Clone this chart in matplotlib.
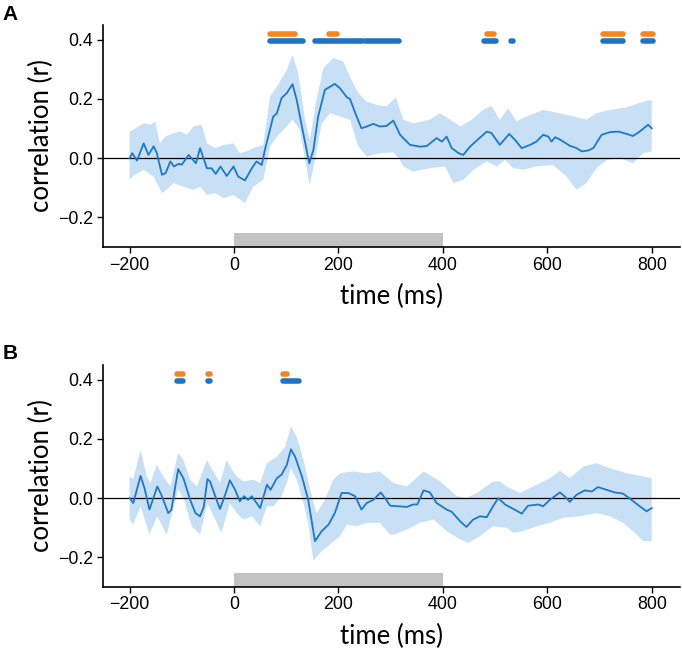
import matplotlib
matplotlib.use("Agg")
import matplotlib.pyplot as plt
import numpy as np

# ---- panel A: mean correlation and its confidence band
a_t = [-200, -195, -186, -173, -164, -154, -148, -138, -131, -122, -115, -106, -100,
       -87, -73, -65, -52, -43, -35, -26, -14, -1, 8, 21, 34, 43, 53, 59, 75, 82,
       91, 101, 112, 120, 130, 144, 152, 161, 174, 193, 203, 216, 222, 235, 244,
       254, 267, 279, 292, 305, 318, 337, 356, 369, 388, 398, 407, 417, 430, 439,
       452, 465, 484, 493, 509, 527, 538, 551, 567, 579, 592, 602, 608, 615, 627,
       643, 656, 666, 678, 688, 704, 720, 736, 752, 764, 777, 793, 800]
a_r = [0.0, 0.017, -0.008, 0.05, 0.011, 0.04, 0.018, -0.056, -0.05, -0.011, -0.028,
       -0.019, -0.022, 0.011, -0.017, 0.034, -0.034, -0.034, -0.053, -0.028, -0.06,
       -0.028, -0.062, -0.075, -0.034, -0.011, -0.023, 0.028, 0.14, 0.152, 0.203,
       0.22, 0.25, 0.197, 0.107, -0.017, 0.028, 0.14, 0.231, 0.251, 0.236, 0.206,
       0.2, 0.14, 0.101, 0.107, 0.116, 0.107, 0.109, 0.127, 0.079, 0.045, 0.039,
       0.041, 0.068, 0.056, 0.073, 0.034, 0.017, 0.011, 0.039, 0.06, 0.09, 0.085,
       0.045, 0.082, 0.062, 0.034, 0.045, 0.056, 0.079, 0.073, 0.056, 0.071, 0.06,
       0.042, 0.034, 0.023, 0.026, 0.034, 0.079, 0.088, 0.09, 0.082, 0.075, 0.09,
       0.113, 0.101]

a_hi_t = [-200, -193, -173, -160, -151, -142, -132, -116, -103, -90, -78, -62, -52,
          -36, -20, -1, 11, 24, 37, 56, 69, 82, 101, 112, 123, 136, 145, 158, 171,
          190, 209, 228, 241, 254, 273, 292, 310, 324, 343, 375, 394, 414, 433, 455,
          477, 493, 509, 525, 541, 560, 592, 624, 650, 675, 694, 720, 752, 784, 800]
a_hi = [0.09, 0.096, 0.118, 0.113, 0.124, 0.05, 0.073, 0.084, 0.09, 0.079, 0.107,
        0.113, 0.05, 0.034, 0.045, 0.05, 0.017, 0.023, 0.034, 0.045, 0.208, 0.242,
        0.298, 0.349, 0.287, 0.13, 0.062, 0.197, 0.304, 0.338, 0.327, 0.253, 0.214,
        0.191, 0.18, 0.175, 0.205, 0.13, 0.118, 0.13, 0.152, 0.13, 0.107, 0.13,
        0.163, 0.177, 0.13, 0.169, 0.124, 0.141, 0.163, 0.152, 0.141, 0.13, 0.152,
        0.163, 0.172, 0.191, 0.197]

a_lo_t = [-200, -193, -173, -154, -138, -128, -116, -97, -78, -65, -52, -36, -20, -1,
          21, 37, 56, 69, 82, 101, 112, 126, 136, 145, 155, 168, 184, 203, 222, 238,
          254, 279, 305, 318, 324, 343, 375, 404, 420, 439, 459, 484, 503, 519, 535,
          554, 579, 611, 637, 656, 675, 694, 714, 739, 764, 784, 800]
a_lo = [-0.073, -0.06, -0.039, -0.062, -0.118, -0.105, -0.084, -0.096, -0.107,
        -0.096, -0.124, -0.118, -0.135, -0.124, -0.152, -0.096, -0.073, 0.039, 0.073,
        0.107, 0.13, 0.096, -0.006, -0.09, -0.006, 0.118, 0.152, 0.141, 0.13, 0.039,
        0.006, 0.017, 0.02, -0.006, -0.028, -0.045, -0.034, -0.028, -0.084, -0.073,
        -0.039, -0.011, -0.028, -0.006, -0.034, -0.039, -0.028, -0.023, -0.062,
        -0.107, -0.084, -0.034, -0.006, 0.0, -0.017, 0.017, 0.023]

# significant windows (ms): top row orange, bottom row blue
a_sig_orange = [(68, 117), (182, 198), (484, 498), (707, 744), (784, 803)]
a_sig_blue = [(68, 132), (155, 245), (250, 315), (479, 501), (530, 535),
              (707, 744), (784, 803)]

# ---- panel B
b_t = [-200, -193, -179, -171, -162, -147, -139, -126, -120, -107, -97, -84, -74,
       -65, -58, -51, -46, -36, -27, -17, -8, 2, 11, 19, 27, 34, 50, 63, 70, 82,
       91, 101, 109, 117, 130, 142, 155, 168, 181, 193, 206, 219, 232, 244, 254,
       267, 281, 289, 299, 315, 331, 343, 351, 363, 375, 388, 407, 417, 433, 445,
       458, 471, 484, 496, 506, 519, 535, 551, 563, 583, 592, 605, 624, 633, 643,
       656, 672, 685, 697, 713, 729, 745, 761, 777, 790, 800]
b_r = [0.0, -0.017, 0.075, 0.03, -0.039, 0.039, 0.01, -0.051, -0.04, 0.098, 0.067,
       -0.006, -0.051, -0.062, -0.03, 0.064, 0.056, 0.006, -0.037, 0.011, 0.06,
       0.028, -0.011, 0.006, -0.006, 0.006, -0.034, 0.045, 0.028, 0.067, 0.079,
       0.112, 0.165, 0.14, 0.073, -0.006, -0.146, -0.112, -0.09, -0.051, 0.017,
       0.017, 0.006, -0.039, -0.017, -0.006, 0.019, 0.0, -0.026, -0.028, -0.03,
       -0.022, -0.022, 0.026, 0.019, -0.017, -0.039, -0.047, -0.079, -0.098, -0.073,
       -0.062, -0.065, -0.028, 0.0, -0.022, -0.037, -0.053, -0.026, -0.022, -0.028,
       -0.006, 0.019, 0.006, -0.013, 0.011, 0.026, 0.022, 0.037, 0.028, 0.019, 0.015,
       -0.006, -0.028, -0.045, -0.034]

b_hi_t = [-200, -193, -179, -167, -160, -148, -135, -122, -107, -97, -84, -71, -52,
          -36, -27, -14, -4, 5, 18, 37, 50, 63, 82, 98, 109, 120, 133, 146, 158,
          174, 190, 203, 228, 254, 279, 305, 331, 363, 395, 427, 445, 465, 496, 509,
          522, 548, 573, 605, 624, 643, 669, 694, 720, 752, 784, 800]
b_hi = [0.073, 0.065, 0.163, 0.073, 0.051, 0.112, 0.073, 0.039, 0.152, 0.129, 0.062,
        0.039, 0.129, 0.079, 0.051, 0.129, 0.096, 0.073, 0.056, 0.062, 0.051, 0.118,
        0.14, 0.174, 0.242, 0.208, 0.129, 0.028, -0.051, -0.006, 0.062, 0.084, 0.09,
        0.084, 0.09, 0.051, 0.039, 0.09, 0.056, 0.006, 0.0, 0.017, 0.056, 0.056,
        0.039, 0.017, 0.039, 0.067, 0.093, 0.067, 0.107, 0.118, 0.101, 0.084, 0.073,
        0.067]

b_lo_t = [-200, -193, -179, -162, -147, -129, -107, -97, -81, -65, -51, -36, -24,
          -8, 5, 18, 34, 50, 63, 76, 91, 101, 109, 120, 133, 142, 152, 165, 184, 203,
          216, 235, 254, 279, 299, 305, 331, 356, 382, 407, 433, 449, 471, 496, 522,
          535, 554, 579, 605, 630, 662, 694, 720, 745, 764, 784, 800]
b_lo = [-0.073, -0.09, -0.028, -0.124, -0.062, -0.124, 0.028, 0.0, -0.096, -0.124,
        -0.017, -0.073, -0.118, -0.017, -0.051, -0.073, -0.062, -0.096, -0.028,
        -0.028, 0.006, 0.051, 0.101, 0.062, -0.017, -0.084, -0.213, -0.185, -0.157,
        -0.129, -0.09, -0.096, -0.084, -0.084, -0.124, -0.124, -0.107, -0.084,
        -0.073, -0.112, -0.14, -0.152, -0.129, -0.096, -0.101, -0.118, -0.112,
        -0.096, -0.084, -0.067, -0.062, -0.051, -0.062, -0.084, -0.112, -0.146,
        -0.146]

b_sig_orange = [(-110, -98), (-49, -46), (93, 101)]
b_sig_blue = [(-110, -98), (-49, -46), (93, 125)]

stim_window = (0, 400)
x_ticks = [-200, 0, 200, 400, 600, 800]
y_ticks = [-0.2, 0.0, 0.2, 0.4]

LINE_BLUE = "#1f77c8"
BAND_BLUE = "#c8e0f6"
SIG_ORANGE = "#f5861f"
SIG_BLUE = "#1f72c4"
STIM_GRAY = "#c3c3c3"
LABEL_FONT = ["Lato", "DejaVu Sans"]

plt.rcParams["font.family"] = ["Liberation Sans", "DejaVu Sans"]


def draw_panel(ax, t, r, hi_t, hi, lo_t, lo, sig_orange, sig_blue):
    # band as a closed polygon (upper edge forward, lower edge back)
    ax.fill(np.r_[hi_t, lo_t[::-1]], np.r_[hi, lo[::-1]],
            color=BAND_BLUE, lw=0, zorder=1)
    ax.axhline(0, color="black", lw=0.9, zorder=2)
    ax.plot(t, r, color=LINE_BLUE, lw=1.3, zorder=3)

    for start, end in sig_orange:
        ax.plot([start, end], [0.42, 0.42], color=SIG_ORANGE, lw=4,
                solid_capstyle="round", zorder=4)
    for start, end in sig_blue:
        ax.plot([start, end], [0.395, 0.395], color=SIG_BLUE, lw=4,
                solid_capstyle="round", zorder=4)

    ax.fill_between(stim_window, -0.30, -0.253, color=STIM_GRAY, lw=0, zorder=1)

    ax.set_xlim(-251, 854)
    ax.set_ylim(-0.30, 0.45)
    ax.set_xticks(x_ticks)
    ax.set_yticks(y_ticks)
    ax.set_yticklabels([f"{v:.1f}".replace("-", "\u2212") for v in y_ticks])
    for side in ("top", "right"):
        ax.spines[side].set_visible(False)
    for side in ("left", "bottom"):
        ax.spines[side].set_linewidth(1.2)
    ax.tick_params(length=4, width=1.0, labelsize=12.8, pad=3)
    ax.set_xlabel("time (ms)", family=LABEL_FONT, fontsize=18.5, va="center")
    ax.set_ylabel("correlation (r)", family=LABEL_FONT, fontsize=18.5,
                  va="center")
    ax.xaxis.set_label_coords(0.5, -0.225)
    ax.yaxis.set_label_coords(-0.106, 0.5)


fig = plt.figure(figsize=(6.82, 6.51), dpi=100)
ax_a = fig.add_axes([0.151, 0.6206, 0.846, 0.341])
ax_b = fig.add_axes([0.151, 0.099, 0.846, 0.340])

draw_panel(ax_a, a_t, a_r, np.array(a_hi_t), np.array(a_hi),
           np.array(a_lo_t), np.array(a_lo), a_sig_orange, a_sig_blue)
draw_panel(ax_b, b_t, b_r, np.array(b_hi_t), np.array(b_hi),
           np.array(b_lo_t), np.array(b_lo), b_sig_orange, b_sig_blue)

fig.text(0.004, 0.992, "A", fontsize=15, fontweight="bold", va="top")
fig.text(0.004, 0.472, "B", fontsize=15, fontweight="bold", va="top")

fig.savefig("out.png", dpi=100)
